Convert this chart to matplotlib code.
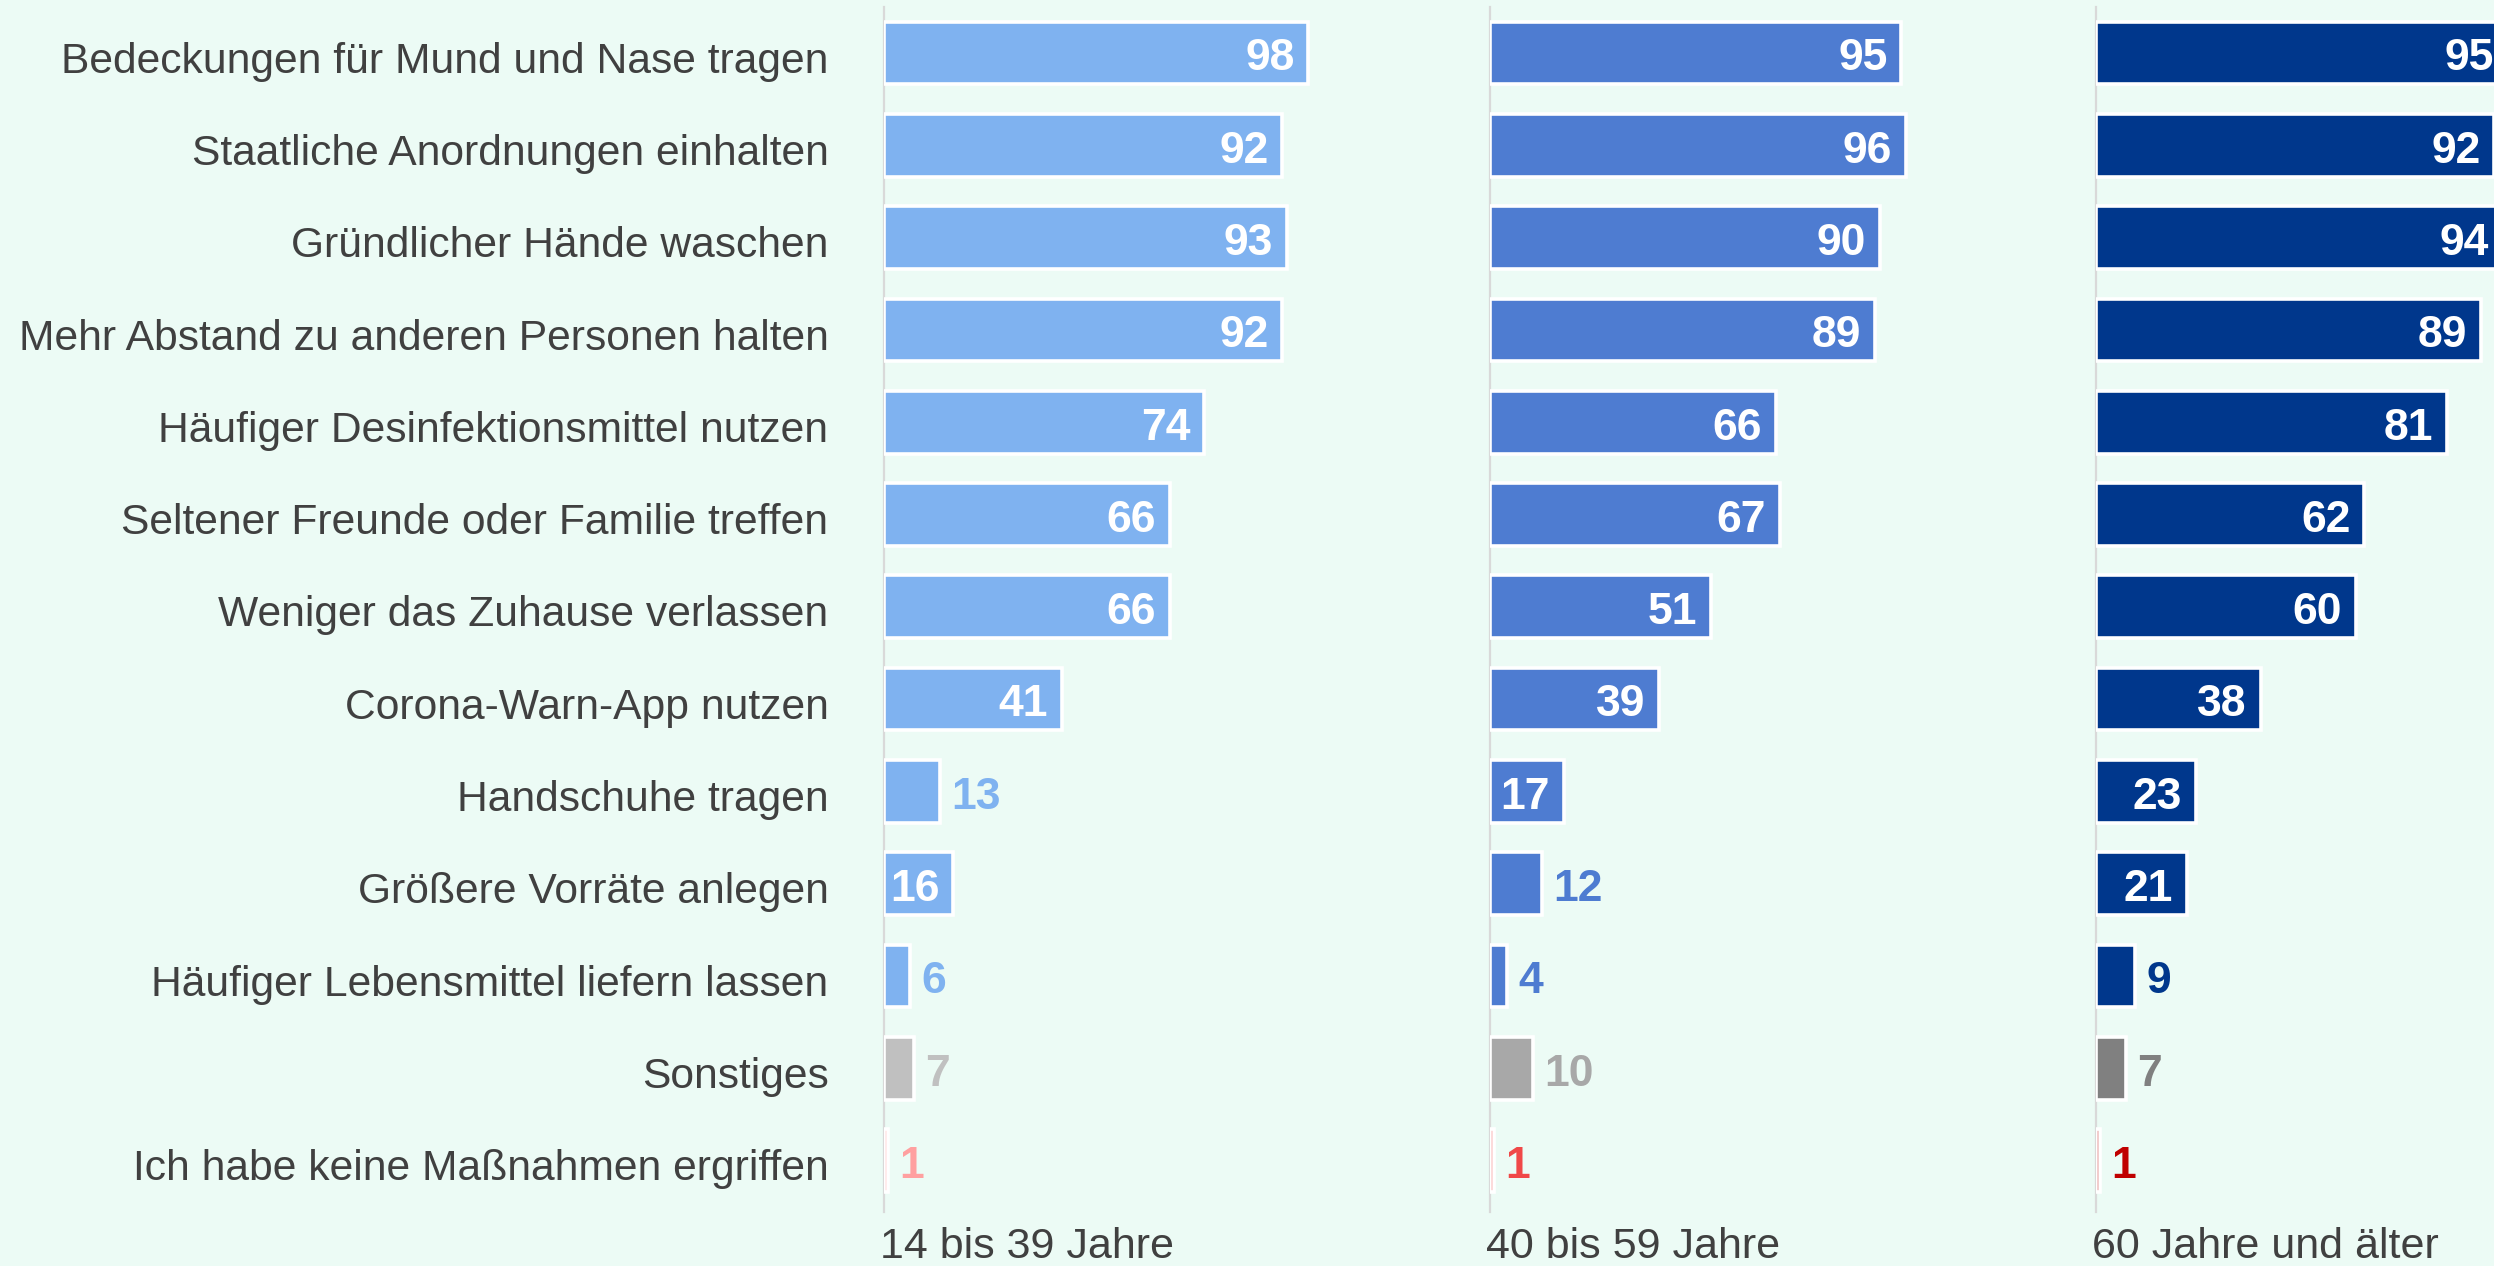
import matplotlib.pyplot as plt
import matplotlib.transforms as mtransforms

plt.rcParams['font.family'] = ['Liberation Sans', 'DejaVu Sans']

CATEGORIES = [
    "Bedeckungen für Mund und Nase tragen",
    "Staatliche Anordnungen einhalten",
    "Gründlicher Hände waschen",
    "Mehr Abstand zu anderen Personen halten",
    "Häufiger Desinfektionsmittel nutzen",
    "Seltener Freunde oder Familie treffen",
    "Weniger das Zuhause verlassen",
    "Corona-Warn-App nutzen",
    "Handschuhe tragen",
    "Größere Vorräte anlegen",
    "Häufiger Lebensmittel liefern lassen",
    "Sonstiges",
    "Ich habe keine Maßnahmen ergriffen",
]
GROUPS = ["14 bis 39 Jahre", "40 bis 59 Jahre", "60 Jahre und älter"]
AGE_14_39 = [98, 92, 93, 92, 74, 66, 66, 41, 13, 16, 6, 7, 1]
AGE_40_59 = [95, 96, 90, 89, 66, 67, 51, 39, 17, 12, 4, 10, 1]
AGE_60_UP = [95, 92, 94, 89, 81, 62, 60, 38, 23, 21, 9, 7, 1]

MAIN_COLORS = ["#7fb2f0", "#4e7cd1", "#00378c"]
OTHER_COLORS = ["#c0c0c0", "#a8a8a8", "#808080"]
NONE_COLORS = ["#ffa0a0", "#f04848", "#c00000"]
BG = "#ecfbf5"
TEXT = "#404040"

W, H, DPI = 2494, 1266, 100
fig = plt.figure(figsize=(W / DPI, H / DPI), dpi=DPI, facecolor=BG)

n = len(CATEGORIES)
row_px = 92.3
top_px, bot_px = 7, 1212
y_top = -(53 - top_px) / row_px
y_bot = (n - 1) + (bot_px - (53 + (n - 1) * row_px)) / row_px
panel_x = [884, 1490, 2096]
unit_px = 4.33

for g, (vals, x0) in enumerate(zip([AGE_14_39, AGE_40_59, AGE_60_UP], panel_x)):
    ax = fig.add_axes([x0 / W, (H - bot_px) / H, 100 * unit_px / W, (bot_px - top_px) / H])
    ax.set_facecolor("none")
    colors = [MAIN_COLORS[g]] * (n - 2) + [OTHER_COLORS[g], NONE_COLORS[g]]
    ypos = list(range(n))
    ax.barh(ypos, vals, height=0.68, color=colors, edgecolor="white", linewidth=2.6, zorder=3)
    ax.set_xlim(0, 100)
    ax.set_ylim(y_bot, y_top)
    for y, v, c in zip(ypos, vals, colors):
        if v >= 15:
            ax.annotate(str(v), (v, y), xytext=(-10, -1), textcoords="offset points",
                        ha="right", va="center_baseline", color="white", fontsize=32,
                        fontweight="bold", zorder=4)
        else:
            ax.annotate(str(v), (v, y), xytext=(8, -1), textcoords="offset points",
                        ha="left", va="center_baseline", color=c, fontsize=32,
                        fontweight="bold", zorder=4)
    for s in ["top", "right", "bottom"]:
        ax.spines[s].set_visible(False)
    ax.spines["left"].set_color("#d9d9d9")
    ax.spines["left"].set_linewidth(1.6)
    ax.set_xticks([])
    ax.tick_params(axis="y", length=0)
    if g == 0:
        ax.set_yticks(ypos)
        ax.set_yticklabels(CATEGORIES, fontsize=30.7, color=TEXT)
        ax.tick_params(axis="y", pad=40)
        shift = mtransforms.ScaledTranslation(0, -3 / 72, fig.dpi_scale_trans)
        for lab in ax.get_yticklabels():
            lab.set_transform(lab.get_transform() + shift)
    else:
        ax.set_yticks([])
    fig.text((x0 - 4) / W, (H - 1247) / H, GROUPS[g], ha="left", va="center",
             fontsize=31, color=TEXT)

fig.savefig("out.png", dpi=DPI, facecolor=BG)
